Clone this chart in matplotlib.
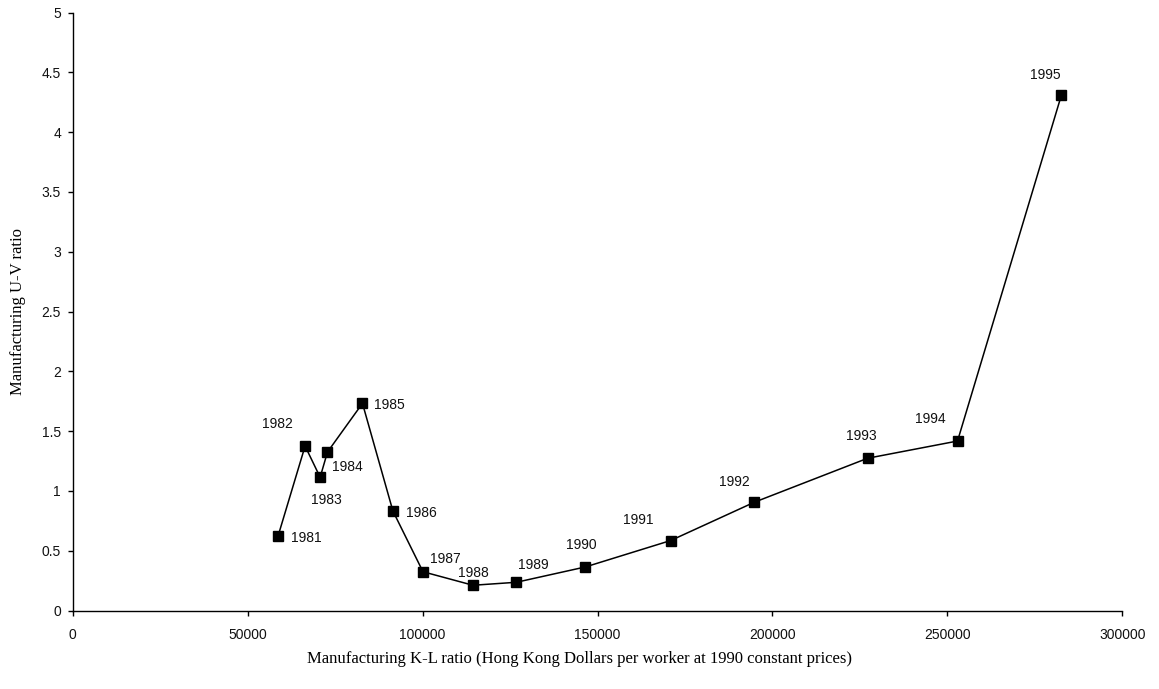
import matplotlib
matplotlib.use("Agg")
import matplotlib.pyplot as plt
from matplotlib.ticker import FuncFormatter

years = ["1981", "1982", "1983", "1984", "1985", "1986", "1987", "1988",
         "1989", "1990", "1991", "1992", "1993", "1994", "1995"]
kl_ratio = [58700, 66400, 70700, 72800, 82800, 91500, 100100, 114400,
            126800, 146500, 170900, 194800, 227200, 252900, 282600]
uv_ratio = [0.625, 1.375, 1.114, 1.325, 1.732, 0.832, 0.324, 0.211,
            0.236, 0.364, 0.585, 0.905, 1.273, 1.417, 4.31]
x_ticks = [0, 50000, 100000, 150000, 200000, 250000, 300000]
y_ticks = [0, 0.5, 1, 1.5, 2, 2.5, 3, 3.5, 4, 4.5, 5]

# label offsets in pixels (dx, dy) relative to marker
label_offsets = [(28, -2), (-28, 22), (6, -23), (20, -15), (27, -2), (28, -2),
                 (22, 13), (0, 12), (17, 17), (-4, 22), (-32, 21), (-20, 20),
                 (-6, 22), (-27, 22), (-16, 20)]

W, H = 1159, 689
fig = plt.figure(figsize=(W / 100, H / 100), dpi=100)
ax = fig.add_axes([72.8 / W, 1 - 610.5 / H, (1122.3 - 72.8) / W, (610.5 - 12.5) / H])

ax.plot(kl_ratio, uv_ratio, color="black", linewidth=1.1, marker="s",
        markersize=6.5, markerfacecolor="black", markeredgecolor="black")

for yr, x, y, (dx, dy) in zip(years, kl_ratio, uv_ratio, label_offsets):
    ax.annotate(yr, (x, y), xytext=(dx, dy), textcoords="offset pixels",
                ha="center", va="center", fontsize=10, family="Liberation Sans",
                color="#111111")

ax.set_xlim(0, 300000)
ax.set_ylim(0, 5)
ax.set_xticks(x_ticks)
ax.set_yticks(y_ticks)
ax.xaxis.set_major_formatter(FuncFormatter(lambda v, p: f"{int(v)}"))
ax.yaxis.set_major_formatter(FuncFormatter(lambda v, p: f"{v:g}"))

for s in ["top", "right"]:
    ax.spines[s].set_visible(False)
for s in ["left", "bottom"]:
    ax.spines[s].set_linewidth(1.0)
    ax.spines[s].set_color("black")

ax.tick_params(axis="both", direction="out", length=3.5, width=1.0, labelsize=10,
               colors="black")
ax.tick_params(axis="x", pad=9)
ax.tick_params(axis="y", pad=5)
for lbl in ax.get_xticklabels() + ax.get_yticklabels():
    lbl.set_family("Liberation Sans")
    lbl.set_color("#111111")

fig.text(0.5, 1 - 659 / H, "Manufacturing K-L ratio (Hong Kong Dollars per worker at 1990 constant prices)",
         ha="center", va="center", fontsize=12, family="Liberation Serif")
fig.text(18 / W, 1 - 311.5 / H, "Manufacturing U-V ratio", rotation=90,
         ha="center", va="center", fontsize=12, family="Liberation Serif")

fig.savefig("out.png", dpi=100)
